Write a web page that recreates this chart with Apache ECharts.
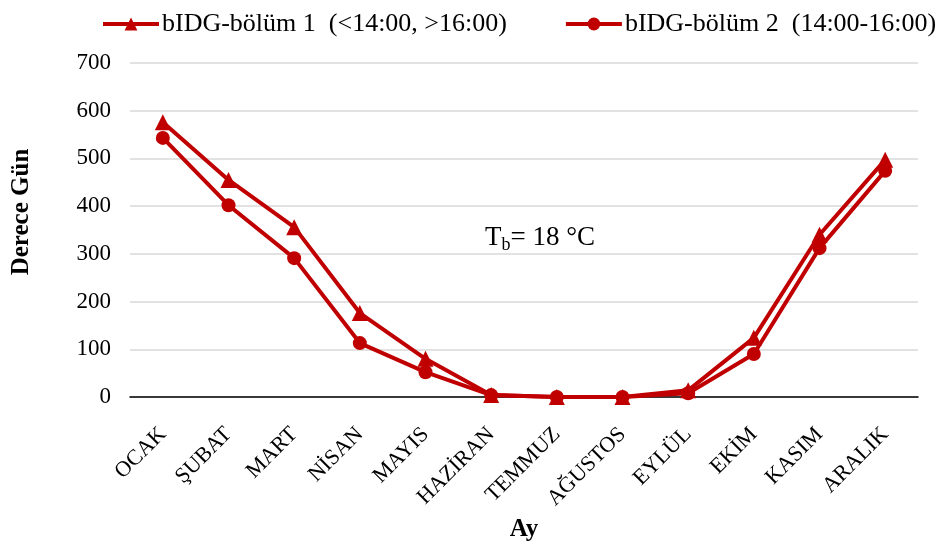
<!DOCTYPE html>
<html><head><meta charset="utf-8">
<script src="https://cdn.jsdelivr.net/npm/echarts@6/dist/echarts.min.js"></script>
<style>html,body{margin:0;padding:0;background:#fff}#c{width:945px;height:542px}</style>
</head><body><div id="c"></div>
<script>
const months = ['OCAK','ŞUBAT','MART','NİSAN','MAYIS','HAZİRAN','TEMMUZ','AĞUSTOS','EYLÜL','EKİM','KASIM','ARALIK'];
const part1 = [576, 455, 356, 176, 80, 4, 0, 0, 14, 124, 340, 497];
const part2 = [543, 402, 291, 113, 52, 4, 0, 0, 8, 90, 312, 474];
const name1 = 'bIDG-bölüm 1  (<14:00, >16:00)';
const name2 = 'bIDG-bölüm 2  (14:00-16:00)';
const F = '"Liberation Serif","Times New Roman",serif';
const red = '#C00000';
const chart = echarts.init(document.getElementById('c'));
chart.setOption({
  animation: false,
  textStyle: {fontFamily: F},
  legend: {
    top: 6, left: 96, itemWidth: 56, itemHeight: 16, itemGap: 57,
    lineStyle: {width: 4},
    textStyle: {fontFamily: F, fontSize: 26, color: '#000', padding: [0, 0, 0, -2]},
    data: [name1, name2]
  },
  grid: {left: 130, right: 27, top: 63, bottom: 145, outerBoundsMode: 'none', containLabel: false},
  xAxis: {
    type: 'category', data: months, boundaryGap: true,
    name: 'Ay', nameLocation: 'middle', nameGap: 109,
    nameTextStyle: {fontFamily: F, fontSize: 25, fontWeight: 'bold', color: '#000'},
    axisLine: {lineStyle: {color: '#000', width: 1.5}},
    axisTick: {show: false},
    axisLabel: {rotate: 45, fontFamily: F, fontSize: 22, color: '#000', margin: 34, interval: 0}
  },
  yAxis: {
    type: 'value', min: 0, max: 700, interval: 100,
    name: 'Derece Gün', nameLocation: 'middle', nameGap: 96,
    nameTextStyle: {fontFamily: F, fontSize: 25, fontWeight: 'bold', color: '#000', padding: [0, 0, 0, 36]},
    axisLine: {show: false}, axisTick: {show: false},
    axisLabel: {fontFamily: F, fontSize: 23, color: '#000', margin: 19},
    splitLine: {lineStyle: {color: '#d9d9d9', width: 1.5}}
  },
  graphic: [{
    type: 'text', left: 485, top: 224,
    style: {
      text: '{a|T}{b|b}{a|= 18 °C}',
      rich: {
        a: {fontFamily: F, fontSize: 27, fill: '#000'},
        b: {fontFamily: F, fontSize: 18, fill: '#000', padding: [16, 0, 0, 0]}
      }
    }
  }],
  series: [
    {name: name1, type: 'line', data: part1, symbol: 'triangle', symbolSize: 16,
     lineStyle: {color: red, width: 4}, itemStyle: {color: red}},
    {name: name2, type: 'line', data: part2, symbol: 'circle', symbolSize: 14,
     lineStyle: {color: red, width: 4}, itemStyle: {color: red}}
  ]
});
</script></body></html>
